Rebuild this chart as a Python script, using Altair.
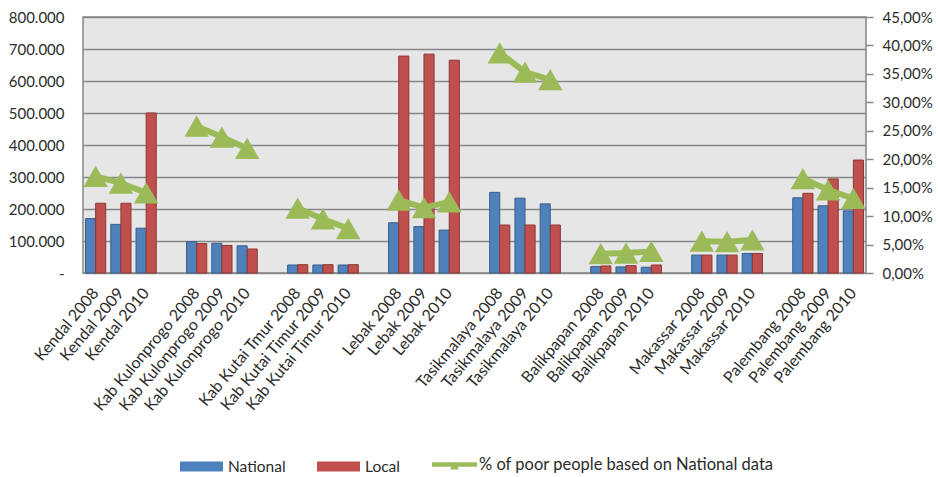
import altair as alt
import pandas as pd

groups = ["Kendal", "Kab Kulonprogo", "Kab Kutai Timur", "Lebak",
          "Tasikmalaya", "Balikpapan", "Makassar", "Palembang"]
labels = ["Kendal 2008", "Kendal 2009", "Kendal 2010",
          "Kab Kulonprogo 2008", "Kab Kulonprogo 2009", "Kab Kulonprogo 2010",
          "Kab Kutai Tmur 2008", "Kab Kutai Timur 2009", "Kab Kutai Timur 2010",
          "Lebak 2008", "Lebak 2009", "Lebak 2010",
          "Tasikmalaya 2008", "Tasikmalaya 2009", "Tasikmalaya 2010",
          "Balikpapan 2008", "Balikpapan 2009", "Balikpapan 2010",
          "Makassar 2008", "Makassar 2009", "Makassar 2010",
          "Palembang 2008", "Palembang 2009", "Palembang 2010"]
national = [170000, 152000, 140000,
            98000, 93000, 85000,
            25000, 25000, 25000,
            157000, 145000, 134000,
            252000, 234000, 216000,
            20000, 19000, 18000,
            56000, 56000, 61000,
            235000, 210000, 194000]
local = [218000, 218000, 500000,
         92000, 86000, 75000,
         26000, 26000, 26000,
         678000, 684000, 665000,
         150000, 150000, 150000,
         22000, 23000, 25000,
         56000, 56000, 61000,
         249000, 294000, 353000]
pct = [17.0, 15.8, 14.1,
       25.8, 23.9, 21.9,
       11.4, 9.5, 7.8,
       12.8, 11.5, 12.5,
       38.7, 35.3, 34.0,
       3.4, 3.5, 3.8,
       5.6, 5.5, 5.8,
       16.6, 14.6, 13.1]

bar_series = ["National", "Local"]
bar_colors = ["#4F81BD", "#C0504D"]
bar_strokes = ["#385D8A", "#8C3836"]
line_series = ["% of poor people based on National data"]
line_color = "#9BBB59"

# category domain with an empty slot between each group
domain = []
for gi in range(len(groups)):
    domain += labels[gi * 3:gi * 3 + 3]
    if gi < len(groups) - 1:
        domain.append(f"_gap{gi}")

bar_rows = []
for i, lab in enumerate(labels):
    bar_rows.append({"cat": lab, "series": "National", "value": national[i]})
    bar_rows.append({"cat": lab, "series": "Local", "value": local[i]})
bar_df = pd.DataFrame(bar_rows)
line_df = pd.DataFrame({"cat": labels,
                        "grp": [groups[i // 3] for i in range(len(labels))],
                        "pct": pct,
                        "s": line_series * len(labels)})

FONT = "Lato"
GRID = "#878787"
TXT = "#2b2b2b"
x_scale = alt.Scale(domain=domain, paddingInner=0, paddingOuter=0)
x_axis = alt.Axis(title=None, labelAngle=-50,
                  labelExpr="indexof(datum.value, '_gap') == 0 ? '' : datum.value",
                  ticks=False, domain=False, labelFontSize=16, labelFont=FONT,
                  labelColor=TXT, labelPadding=17, labelOverlap=False, labelLimit=300)

RECT = "M-1,-0.233H1V0.233H-1Z"
LINEP = "M-1,-0.1H1V0.1H-1ZM-0.2,0.22L0,-0.15L0.2,0.22Z"

bars = alt.Chart(bar_df).mark_bar(strokeWidth=1).encode(
    x=alt.X("cat:N", scale=x_scale, sort=domain, axis=x_axis),
    xOffset=alt.XOffset("series:N",
                        scale=alt.Scale(domain=bar_series, paddingInner=0,
                                        paddingOuter=0.25)),
    y=alt.Y("value:Q", scale=alt.Scale(domain=[0, 800000], nice=False),
            axis=alt.Axis(title=None, values=list(range(0, 800001, 100000)),
                          labelExpr="datum.value == 0 ? '-\u00a0\u00a0\u00a0' : replace(format(datum.value, ',.0f'), ',', '.')",
                          grid=True, gridColor=GRID, gridWidth=1.5, ticks=False,
                          domain=False, labelPadding=19, labelFontSize=15,
                          labelFont=FONT, labelColor=TXT)),
    color=alt.Color("series:N",
                    scale=alt.Scale(domain=bar_series, range=bar_colors),
                    legend=alt.Legend(title=None, orient="none", legendX=97, legendY=428,
                                      direction="horizontal", labelFontSize=15.5,
                                      labelFont=FONT, labelColor=TXT,
                                      symbolType=RECT, symbolSize=1849,
                                      symbolStrokeWidth=0,
                                      columnPadding=31, labelOffset=5)),
    stroke=alt.Stroke("series:N",
                      scale=alt.Scale(domain=bar_series, range=bar_strokes),
                      legend=None),
)

y_right = alt.Y("pct:Q", scale=alt.Scale(domain=[0, 45], nice=False),
                axis=alt.Axis(title=None, orient="right", values=list(range(0, 46, 5)),
                              labelExpr="replace(format(datum.value, '.2f'), '.', ',') + '%'",
                              grid=False, ticks=True, tickSize=7, tickColor=GRID,
                              tickWidth=1.5, domain=False, labelPadding=9,
                              labelFontSize=15, labelFont=FONT, labelColor=TXT))

line = alt.Chart(line_df).mark_line(color=line_color, strokeWidth=6).encode(
    x=alt.X("cat:N", scale=x_scale, sort=domain, axis=x_axis),
    y=y_right,
    detail="grp:N",
)
pts = alt.Chart(line_df).mark_point(shape="triangle-up", filled=True, size=600,
                                    opacity=1).encode(
    x=alt.X("cat:N", scale=x_scale, sort=domain, axis=x_axis),
    y=y_right,
    color=alt.Color("s:N", scale=alt.Scale(domain=line_series, range=[line_color]),
                    legend=alt.Legend(title=None, orient="none", legendX=349, legendY=425,
                                      labelFontSize=16.5, labelFont=FONT, labelColor=TXT,
                                      symbolType=LINEP, symbolSize=2025,
                                      symbolStrokeWidth=0, labelOffset=2,
                                      labelLimit=400)),
)

chart = alt.layer(bars, alt.layer(line, pts)).resolve_scale(
    y="independent", color="independent"
).properties(
    width=783, height=256,
    padding={"left": 83, "top": 17, "right": 72, "bottom": 204},
    autosize="none",
    background="white",
).configure_view(
    fill="#e6e6e6", stroke=GRID, strokeWidth=1.5
)

chart.save("out.html", embed_options={"renderer": "svg", "actions": False})
